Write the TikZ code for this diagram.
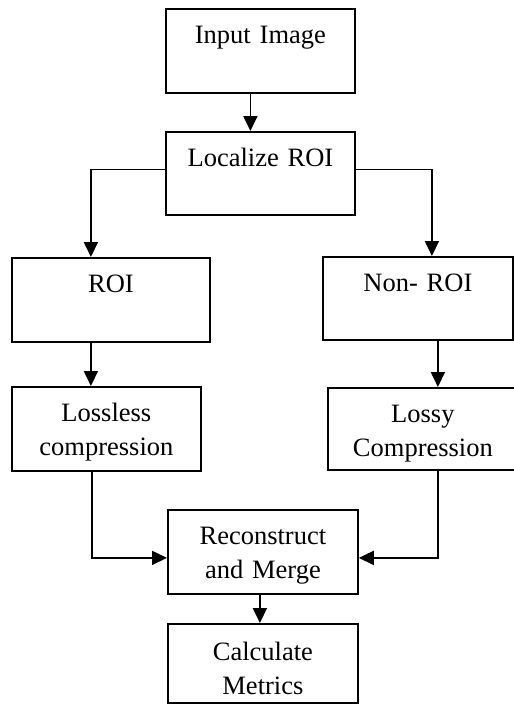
\documentclass[tikz,border=0pt]{standalone}
\usepackage{fontspec}
\setmainfont{Liberation Serif}
\usetikzlibrary{arrows.meta}

\begin{document}
\begin{tikzpicture}[x=1pt,y=-1pt,
	blockbox/.style={draw, line width=1.8pt, anchor=north west, inner sep=0pt, align=center,
		font=\fontsize{26.5}{34}\selectfont, text width=189pt, text height=35pt, text depth=49pt},
	flow/.style={line width=1.8pt, -{Triangle[length=15pt,width=14pt]}}]
\useasboundingbox (0,0) rectangle (514,707);
\node[blockbox] (input) at (165,8) {Input Image};
\node[blockbox, text depth=48pt] (localize) at (165,131) {Localize ROI};
\node[blockbox, text width=198pt] (roi) at (11,257) {ROI};
\node[blockbox, text width=190pt, text depth=48pt] (nonroi) at (322,256) {Non- ROI};
\node[blockbox] (lossless) at (11,386) {Lossless\\compression};
\node[blockbox, text width=190pt, text depth=47pt] (lossy) at (327,387) {Lossy\\Compression};
\node[blockbox, text width=190pt] (recon) at (167,509) {Reconstruct\\and Merge};
\node[blockbox, text width=190pt, text height=37pt, text depth=42pt] (calc) at (167,623) {Calculate\\Metrics};
\draw [flow] ([xshift=-10pt]input.south) -- ([xshift=-10pt]localize.north);
\draw [flow] ([yshift=4pt]localize.west) -| ([xshift=-20pt]roi.north);
\draw [flow] ([yshift=4pt]localize.east) -| ([xshift=14pt]nonroi.north);
\draw [flow] ([xshift=-20pt]roi.south) -- ([xshift=-20pt]roi.south |- lossless.north);
\draw [flow] ([xshift=20pt]nonroi.south) -- ([xshift=20pt]nonroi.south |- lossy.north);
\draw [flow] ([xshift=-14.5pt]lossless.south) |- ([yshift=-6pt]recon.west);
\draw [flow] ([xshift=15pt]lossy.south) |- ([yshift=-6pt]recon.east);
\draw [flow] ([xshift=-3pt]recon.south) -- ([xshift=-3pt]calc.north);
\end{tikzpicture}
\end{document}
